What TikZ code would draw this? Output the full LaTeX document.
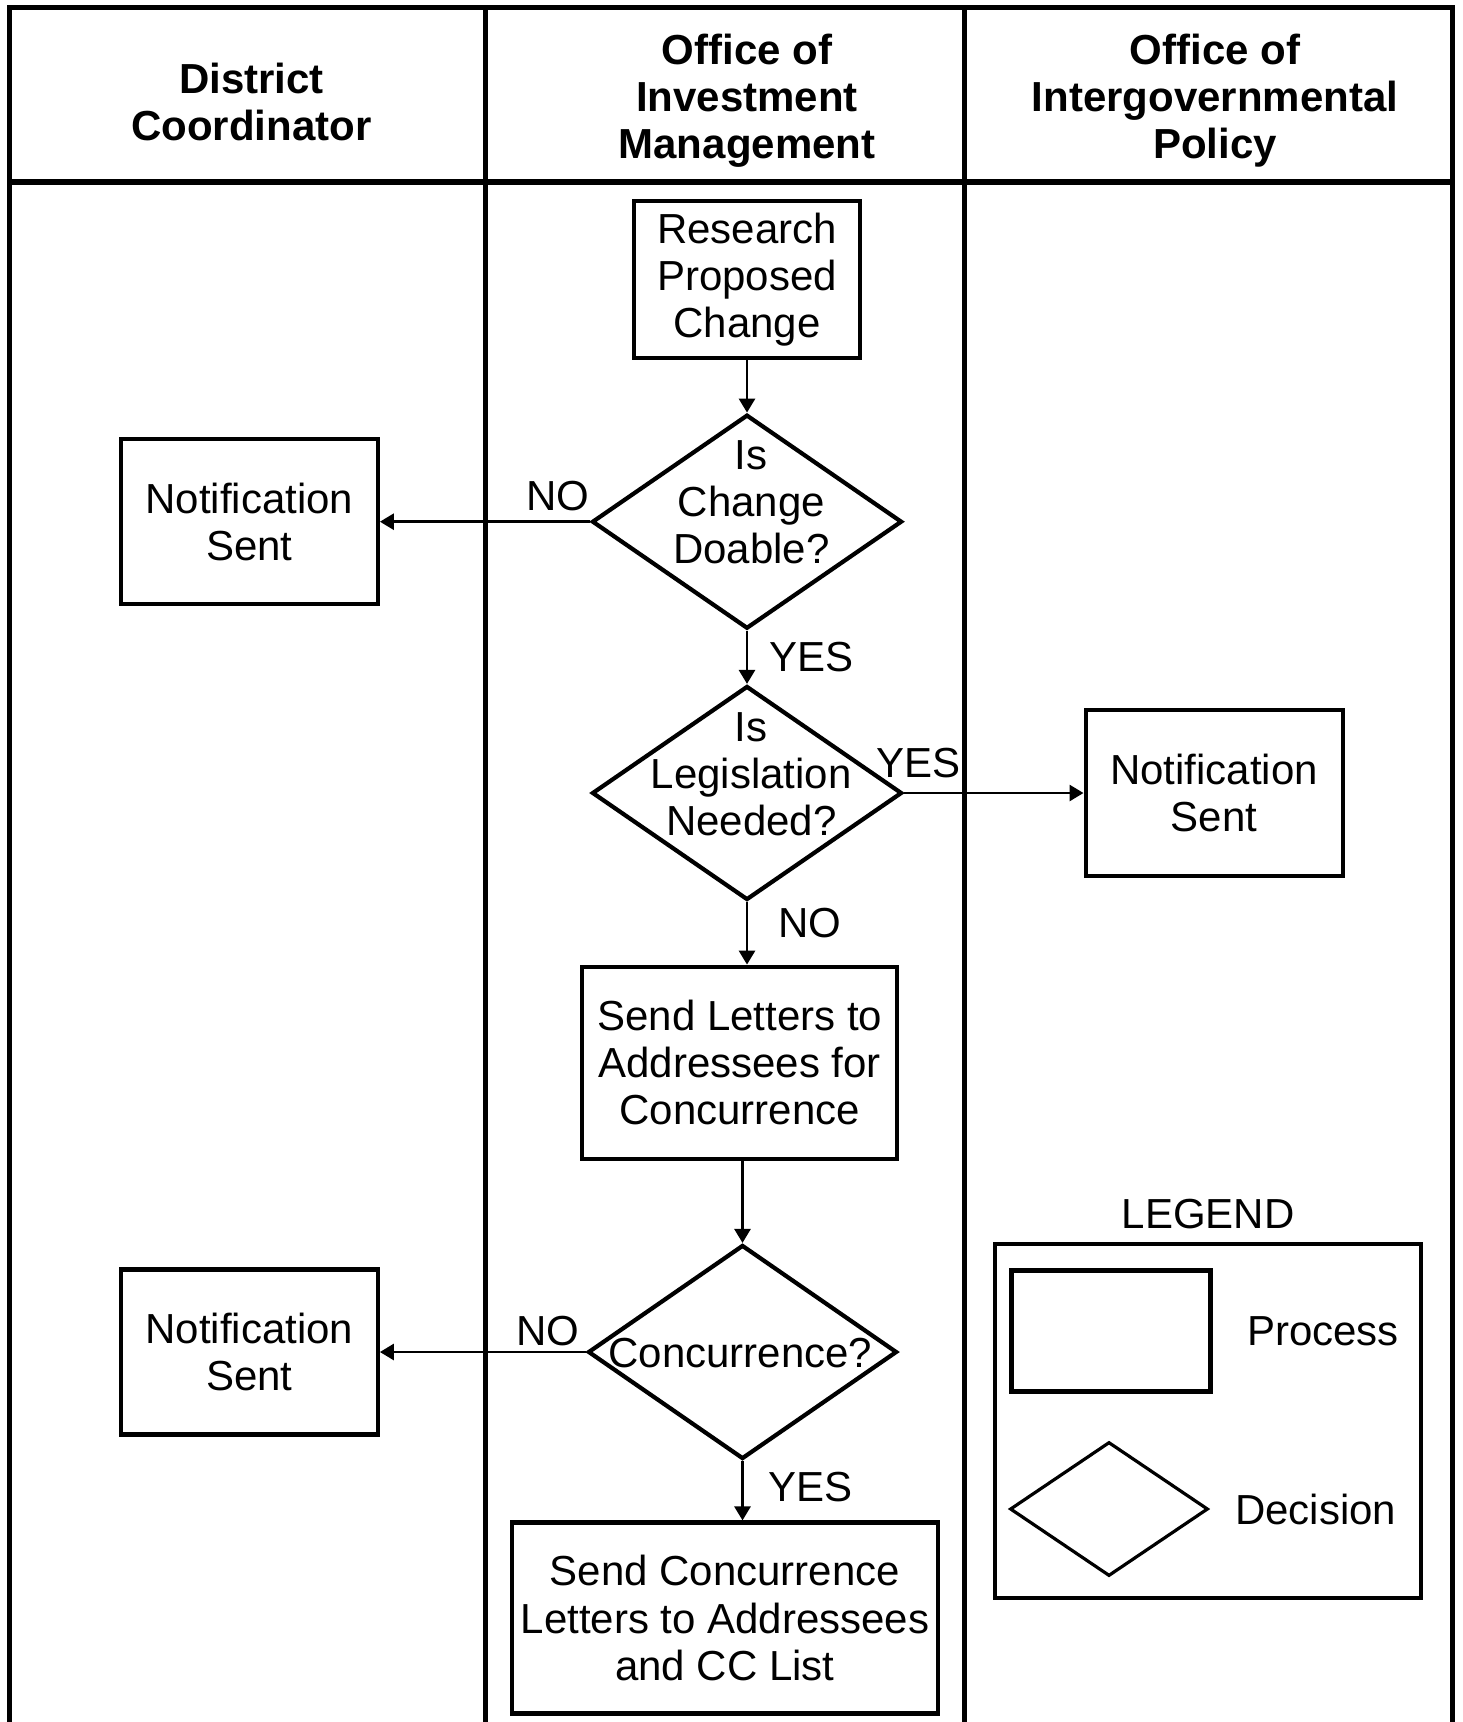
\documentclass[tikz,border=0pt]{standalone}
\usepackage{fontspec}
\setmainfont{Liberation Sans}
\usetikzlibrary{arrows.meta, positioning, calc, shapes.geometric}

\begin{document}
\begin{tikzpicture}[x=0.5pt,y=-0.5pt,>={Triangle[length=7pt,width=8pt]},
		process/.style={rectangle,draw,line width=2.1pt,inner sep=0pt,align=center,font=\fontsize{21}{23.6}\selectfont},
		decision/.style={diamond,draw,line width=2.1pt,inner sep=0pt},
		dtext/.style={align=center,inner sep=0pt,font=\fontsize{21}{23.6}\selectfont},
		head/.style={align=center,inner sep=0pt,font=\fontsize{21}{23.6}\selectfont\bfseries},
		lbl/.style={inner sep=0pt,font=\fontsize{21}{23.6}\selectfont},
		flow/.style={->,line width=1.4pt}]
		
		\useasboundingbox (0,0) rectangle (1462,1722);
		
		% lanes
		\draw[line width=2.5pt] (9,1722) -- (9,8) -- (1452,8) -- (1452,1722);
		\draw[line width=2.5pt] (485.5,8) -- (485.5,1722);
		\draw[line width=2.5pt] (964.5,8) -- (964.5,1722);
		\draw[line width=3pt] (9,182) -- (1452,182);
		
		\node[head] (h1) at (251.5,102) {District\\Coordinator};
		\node[head] (h2) at (747,100.5) {Office of\\Investment\\Management};
		\node[head] (h3) at (1215,100.5) {Office of\\Intergovernmental\\Policy};
		
		% main flow
		\node[process,minimum width=113pt,minimum height=78.5pt] (research) at (747,279.5) {Research\\Proposed\\Change};
		\node[decision,minimum width=155pt,minimum height=107pt] (d1) at (747,521.7) {};
		\node[dtext] (d1t) at (751.3,502) {Is\\Change\\Doable?};
		\node[process,minimum width=128.5pt,minimum height=82.5pt] (n1) [left=105pt of d1] {Notification\\Sent};
		
		\node[decision,minimum width=155pt,minimum height=107pt] (d2) at (747,793) {};
		\node[dtext] (d2t) at (751.3,774.4) {Is\\Legislation\\Needed?};
		\node[process,minimum width=128.5pt,minimum height=83pt] (n2) [right=89.7pt of d2] {Notification\\Sent};
		
		\node[process,minimum width=157.5pt,minimum height=96pt] (letters) at (739.8,1062.7) {Send Letters to\\Addressees for\\Concurrence};
		
		\node[decision,minimum width=154.5pt,minimum height=107pt] (d3) at (742.5,1352) {};
		\node[dtext] (d3t) at (740.3,1353.2) {Concurrence?};
		\node[process,minimum width=128.5pt,minimum height=82.5pt] (n3) [left=103pt of d3] {Notification\\Sent};
		
		\node[process,minimum width=213pt,minimum height=95.5pt] (final) at (725,1618) {Send Concurrence\\Letters to Addressees\\and CC List};
		
		\draw[flow] (research) -- (d1);
		\draw[flow] (d1) -- node[lbl,above=4.5pt,pos=0.154] (no1) {NO} (n1);
		\draw[flow] (d1) -- node[lbl,right=10.5pt,pos=0.5] (yes1) {YES} (d2);
		\draw[flow] (d2) -- node[lbl,above=7pt,pos=0.08] (yes2) {YES} (n2);
		\draw[flow] (d2.south) -- node[lbl,right=15pt,pos=0.33] (no2) {NO} (d2.south |- letters.north);
		\draw[flow] (letters.south -| d3.north) -- (d3.north);
		\draw[flow] (d3) -- node[lbl,above=2.5pt,pos=0.184] (no3) {NO} (n3);
		\draw[flow] (d3.south) -- node[lbl,right=12.5pt,pos=0.43] (yes3) {YES} (d3.south |- final.north);
		
		% legend
		\node[draw,line width=2.1pt,minimum width=213pt,minimum height=177pt] (legend) at (1208,1421) {};
		\node[lbl] (legtitle) [above=6.5pt of legend] {LEGEND};
		\node[process,minimum width=99.5pt,minimum height=60.5pt] (legproc) at (1111,1331) {};
		\node[lbl] (legproct) [right=17pt of legproc] {Process};
		\node[decision,line width=1.6pt,minimum width=99pt,minimum height=67pt] (legdec) at (1109,1509) {};
		\node[lbl] (legdect) [right=12.5pt of legdec] {Decision};
		
	\end{tikzpicture}
\end{document}
